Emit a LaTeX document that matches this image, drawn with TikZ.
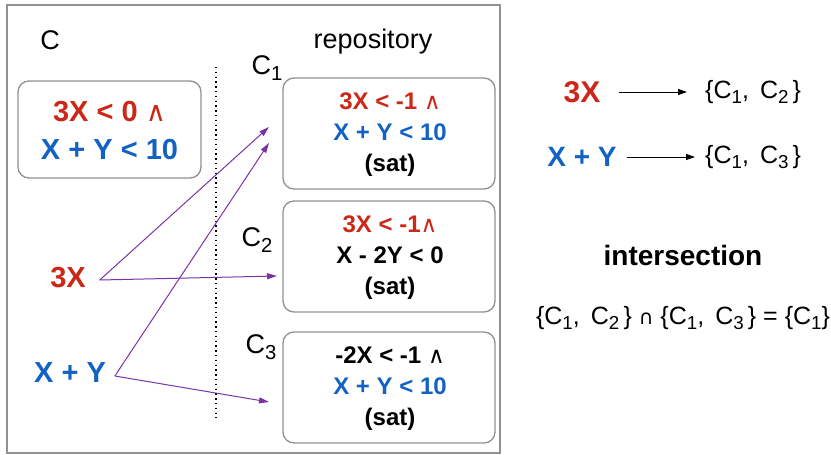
\documentclass[tikz,border=0pt]{standalone}
\usepackage{fontspec}
\usepackage{graphicx}
\setmainfont{Liberation Sans}
\newfontfamily\dvs{DejaVu Sans ExtraLight}
\newfontfamily\dvsr{DejaVu Sans}
\usetikzlibrary{arrows.meta}
\definecolor{cred}{RGB}{204,40,24}
\definecolor{cblue}{RGB}{18,98,196}
\definecolor{cpurple}{RGB}{122,52,168}
\definecolor{cgray}{RGB}{145,145,145}
\newcommand\subn[1]{\raisebox{-0.2em}{\scalebox{0.75}{#1}}}
\newcommand\wedgesym{{\dvsr\mdseries\scalebox{0.95}{∧}}}
\newcommand\capsym{{\dvsr\scalebox{0.8}{∩}}}
\begin{document}
\begin{tikzpicture}[x=1pt,y=-1pt,
  frame/.style={draw=cgray,line width=1.4pt},
  cbox/.style={draw=cgray,line width=1.3pt,rounded corners=11pt,inner sep=0pt},
  lighttext/.style={inner sep=0pt,font=\fontsize{27}{30}\selectfont},
  settext/.style={inner sep=0pt,font=\fontsize{25}{28}\selectfont},
  bigterm/.style={inner sep=0pt,font=\fontsize{29}{32}\selectfont\bfseries},
  boxtext/.style={align=center,inner sep=0pt,font=\fontsize{24}{31}\selectfont\bfseries},
  parrow/.style={draw=cpurple,line width=1pt,-{Triangle[length=10pt,width=6pt]}},
  karrow/.style={draw=black,line width=1pt,-{Triangle[length=9pt,width=6pt]}},
  dotline/.style={draw=black,line width=1.3pt,dash pattern=on 1.3pt off 3.5pt}
]
\useasboundingbox (0,0) rectangle (831,455);
% outer frame
\draw[frame] (7,5) rectangle (500,453);
% labels
\node[lighttext] (lC) at (50,40) {C};
\node[lighttext] (lrepo) at (373,42) {repository};
\node[lighttext] (lC1) at (267,68) {C\subn{1}};
\node[lighttext] (lC2) at (257,240) {C\subn{2}};
\node[lighttext] (lC3) at (261,347) {C\subn{3}};
% box C
\node[cbox,minimum width=183pt,minimum height=97pt] (boxC) at (109.5,129.5) {};
\node[align=center,inner sep=0pt,font=\fontsize{29}{38}\selectfont\bfseries] (tC) at (109.5,131)
  {\textcolor{cred}{3X < 0 \wedgesym}\\\textcolor{cblue}{X + Y < 10}};
% repository boxes
\node[cbox,minimum width=212pt,minimum height=111pt] (b1) at (389,133.5) {};
\node[boxtext] (t1) at (390,135) {\textcolor{cred}{3X < -1 \wedgesym}\\\textcolor{cblue}{X + Y < 10}\\(sat)};
\node[cbox,minimum width=212pt,minimum height=111pt] (b2) at (389,256.5) {};
\node[boxtext] (t2) at (390,257.5) {\textcolor{cred}{3X < -1\wedgesym}\\X - 2Y < 0\\(sat)};
\node[cbox,minimum width=212pt,minimum height=111pt] (b3) at (389,387.5) {};
\node[boxtext] (t3) at (390,389) {-2X < -1 \wedgesym\\\textcolor{cblue}{X + Y < 10}\\(sat)};
% dotted separator
\coordinate (dtop) at (216,67);
\coordinate (dbot) at (216,418);
\draw[dotline] (dtop) -- (dbot);
% left terms
\node[bigterm,text=cred,outer xsep=14pt] (L3X) at (68,278) {3X};
\node[bigterm,text=cblue,outer xsep=9pt] (LXY) at (70,373) {X + Y};
\coordinate (e1a) at (269,127);
\coordinate (e1b) at (269,143);
\coordinate (e2) at (277,276);
\coordinate (e3) at (269,402);
\draw[parrow] ([yshift=-2pt]L3X.east) -- (e1a);
\draw[parrow] ([yshift=-2pt]L3X.east) -- (e2);
\draw[parrow] ([yshift=-3pt]LXY.east) -- (e1b);
\draw[parrow] ([yshift=-3pt]LXY.east) -- (e3);
% right side
\node[bigterm,text=cred,font=\fontsize{30}{32}\selectfont\bfseries] (R3X) at (582,92) {3X};
\node[bigterm,text=cblue,font=\fontsize{28}{32}\selectfont\bfseries] (RXY) at (582,157) {X + Y};
\node[settext,anchor=west] (S12) at (705,92) {\{C\subn{1}, \,C\subn{2}\,\}};
\node[settext,anchor=west] (S13) at (705,157) {\{C\subn{1}, \,C\subn{3}\,\}};
\draw[karrow,shorten <=18pt,shorten >=18pt] (R3X.east) -- (S12.west);
\draw[karrow,shorten <=10pt,shorten >=10pt] (RXY.east) -- (S13.west);
\node[inner sep=0pt,font=\fontsize{28}{32}\selectfont\bfseries] (inter) at (683,255) {intersection};
\node[settext] (formula) at (683,318) {\{C\subn{1}, \,C\subn{2}\,\} \capsym\ \{C\subn{1}, \,C\subn{3}\,\} = \{C\subn{1}\}};
\end{tikzpicture}
\end{document}
